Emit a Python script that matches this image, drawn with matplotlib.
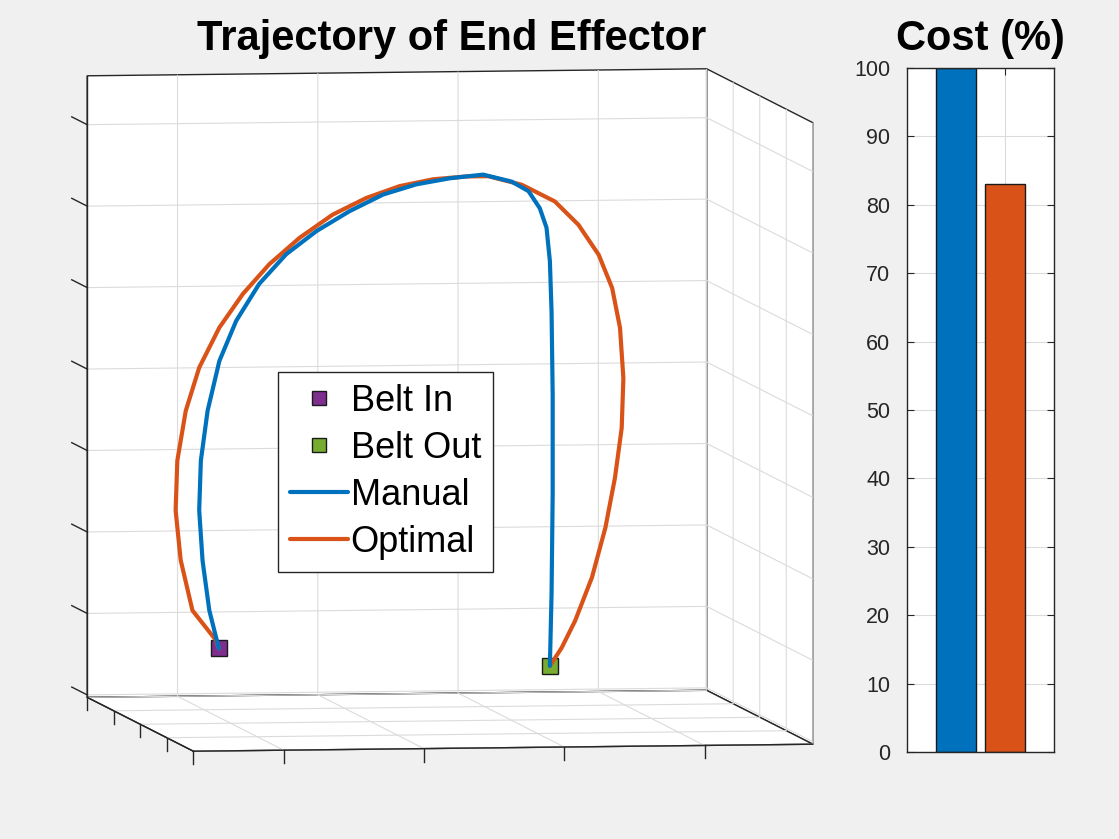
import numpy as np
import matplotlib
matplotlib.use("Agg")
import matplotlib.pyplot as plt
from mpl_toolkits.mplot3d import proj3d

plt.rcParams['font.family'] = ['Liberation Sans', 'DejaVu Sans']

# trajectory of the end effector (x, z in metres, all at depth y = 0)
manual_x = [-0.271, -0.288, -0.300, -0.306, -0.303, -0.291, -0.270, -0.240, -0.199, -0.151,
            -0.097, -0.038, 0.022, 0.081, 0.141, 0.200, 0.251, 0.281, 0.301, 0.313,
            0.319, 0.322, 0.324, 0.324, 0.322, 0.319]
manual_z = [0.289, 0.336, 0.397, 0.459, 0.520, 0.581, 0.642, 0.691, 0.736, 0.772,
            0.800, 0.824, 0.844, 0.856, 0.863, 0.867, 0.858, 0.846, 0.825, 0.801,
            0.760, 0.698, 0.596, 0.473, 0.351, 0.263]
optimal_x = [-0.271, -0.276, -0.318, -0.339, -0.348, -0.345, -0.330, -0.306, -0.270, -0.228,
             -0.181, -0.127, -0.068, -0.008, 0.051, 0.111, 0.170, 0.209, 0.269, 0.328,
             0.370, 0.406, 0.430, 0.444, 0.450, 0.447, 0.435, 0.418, 0.394, 0.364,
             0.340, 0.319]
optimal_z = [0.289, 0.299, 0.336, 0.398, 0.459, 0.520, 0.581, 0.634, 0.683, 0.724,
             0.760, 0.792, 0.820, 0.840, 0.854, 0.862, 0.865, 0.865, 0.854, 0.833,
             0.804, 0.767, 0.726, 0.677, 0.615, 0.554, 0.493, 0.432, 0.371, 0.318,
             0.285, 0.263]
traj_y = 0.0
belt_in = (-0.271, 0.0, 0.289)
belt_out = (0.319, 0.0, 0.263)

# axis limits / ticks of the 3D box
xlim = (-0.411, 0.693)
ylim = (-0.2, 0.2)
zlim = (0.197, 0.960)
xticks = [-0.25, 0, 0.25, 0.5]
yticks = [-0.2, -0.1, 0, 0.1, 0.2]
zticks = [0.2, 0.3, 0.4, 0.5, 0.6, 0.7, 0.8, 0.9]

# cost bars
cost_labels = ['Manual', 'Optimal']
cost_values = [100, 83]

blue = '#0072BD'
orange = '#D95319'
purple = '#7E2F8E'
green = '#77AC30'
axcol = '#262626'
bg = '#f0f0f0'

W, H = 1119, 839
fig = plt.figure(figsize=(W / 100, H / 100), dpi=100, facecolor=bg)

S0 = 700
ax = fig.add_axes([60 / W, 60 / H, S0 / W, S0 / H], projection='3d', proj_type='ortho')
ax.set_facecolor((0, 0, 0, 0))
ax.computed_zorder = False
ax.view_init(elev=4.35, azim=-98.5)
ax.set_box_aspect((625, 717, 622))
ax.set_xlim(*xlim)
ax.set_ylim(*ylim)
ax.set_zlim(*zlim)
ax.set_xticks(xticks)
ax.set_yticks(yticks)
ax.set_zticks(zticks)
ax.set_xticklabels([])
ax.set_yticklabels([])
ax.set_zticklabels([])
for a in (ax.xaxis, ax.yaxis, ax.zaxis):
    a.set_pane_color((1, 1, 1, 1))
    a.pane.set_closed(True)
    a.pane.set_edgecolor(axcol)
    a.pane.set_linewidth(1.0)
    a.line.set_color(axcol)
    a.line.set_linewidth(1.0)
    a._axinfo['grid'].update(color=(0.86, 0.86, 0.86, 1), linewidth=0.8)
    a._axinfo['tick'].update(inward_factor=0.0, outward_factor=0.0)
    a._axinfo['tick']['linewidth'] = {True: 0.0, False: 0.0}
ax.grid(True)

# MATLAB-style tick marks (x and y pointing down, z pointing back)
tick_kw = dict(color=axcol, lw=1.0, zorder=1)
dz = 0.016 * (zlim[1] - zlim[0]) / 0.763
for xt in xticks:
    ax.plot([xt, xt], [ylim[0], ylim[0]], [zlim[0], zlim[0] - dz], **tick_kw)
for yt in yticks:
    ax.plot([xlim[0], xlim[0]], [yt, yt], [zlim[0], zlim[0] - dz], **tick_kw)
dy = 0.058
for zt in zticks:
    ax.plot([xlim[0], xlim[0]], [ylim[1], ylim[1] + dy], [zt, zt], **tick_kw)

n_m = len(manual_x)
n_o = len(optimal_x)
h_in, = ax.plot([belt_in[0]], [belt_in[1]], [belt_in[2]], 's', ms=11.5,
                mfc=purple, mec='#1a1a1a', mew=1.0, label='Belt In', zorder=2)
h_out, = ax.plot([belt_out[0]], [belt_out[1]], [belt_out[2]], 's', ms=11.5,
                 mfc=green, mec='#1a1a1a', mew=1.0, label='Belt Out', zorder=2)
h_opt, = ax.plot(optimal_x, np.full(n_o, traj_y), optimal_z, color=orange, lw=3,
                 label='Optimal', zorder=3, solid_capstyle='round', solid_joinstyle='round')
h_man, = ax.plot(manual_x, np.full(n_m, traj_y), manual_z, color=blue, lw=3,
                 label='Manual', zorder=4, solid_capstyle='round', solid_joinstyle='round')

leg = ax.legend([h_in, h_out, h_man, h_opt], ['Belt In', 'Belt Out', 'Manual', 'Optimal'],
                loc='upper left', bbox_to_anchor=(278 / W, 1 - 372 / H),
                bbox_transform=fig.transFigure, borderaxespad=0, fontsize=26,
                fancybox=False, framealpha=1, edgecolor=axcol, handlelength=1.6,
                handletextpad=0.08, labelspacing=0.33, borderpad=0.33, markerscale=0.85)
leg.get_frame().set_linewidth(1.0)

# fit the projected box onto the target pixel box
fig.canvas.draw()
M = ax.get_proj()
X, Y, Z = np.meshgrid(np.array(xlim), np.array(ylim), np.array(zlim))
px, py, _ = proj3d.proj_transform(X.ravel(), Y.ravel(), Z.ravel(), M)
d = ax.transData.transform(np.column_stack([px, py]))
L, R = d[:, 0].min(), d[:, 0].max()
B, T = d[:, 1].min(), d[:, 1].max()
pos = ax.get_position()
c0 = np.array([(pos.x0 + pos.x1) / 2 * W, (pos.y0 + pos.y1) / 2 * H])
tL, tR, tB, tT = 88, 812, H - 752, H - 68
k = ((tR - tL) / (R - L) + (tT - tB) / (T - B)) / 2
S1 = S0 * k
v = (np.array([(L + R) / 2, (B + T) / 2]) - c0) / S0
c1 = np.array([(tL + tR) / 2, (tB + tT) / 2]) - S1 * v
ax.set_position([(c1[0] - S1 / 2) / W, (c1[1] - S1 / 2) / H, S1 / W, S1 / H])

fig.text(451.5 / W, 1 - 50 / H, 'Trajectory of End Effector', ha='center', va='baseline',
         fontsize=30, fontweight='bold')

# cost bar chart
bx = fig.add_axes([907 / W, 1 - 752 / H, 147 / W, 684 / H])
bx.set_facecolor('white')
bx.bar([1, 2], cost_values, width=0.8, color=[blue, orange], edgecolor='#1a1a1a',
       linewidth=1.0, zorder=3)
bx.set_xlim(0, 3)
bx.set_ylim(0, 100)
bx.set_yticks(np.arange(0, 101, 10))
bx.set_xticks([1, 2])
bx.set_xticklabels([])
bx.grid(True, color=(0.86, 0.86, 0.86), linewidth=0.8, zorder=0)
bx.tick_params(direction='in', length=5, width=0.8, color=axcol, labelsize=15.5,
               labelcolor=axcol, right=True, top=True, pad=12)
for sp in bx.spines.values():
    sp.set_color(axcol)
    sp.set_linewidth(1.0)
    sp.set_zorder(5)
fig.text(980.5 / W, 1 - 50 / H, 'Cost (%)', ha='center', va='baseline',
         fontsize=30, fontweight='bold')

fig.savefig('out.png', dpi=100, facecolor=bg)
